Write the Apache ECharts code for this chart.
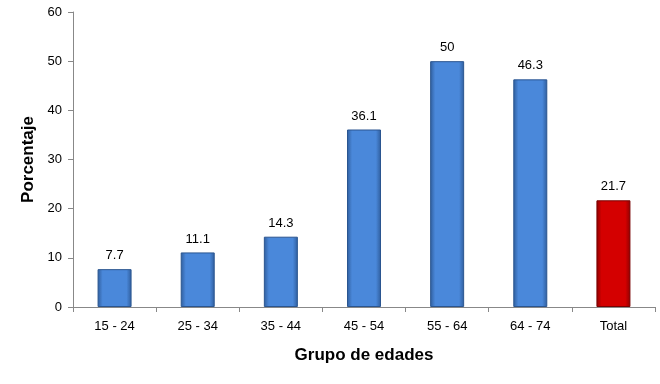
<!DOCTYPE html>
<html><head><meta charset="utf-8">
<script src="https://cdn.jsdelivr.net/npm/echarts@6/dist/echarts.min.js"></script>
<style>html,body{margin:0;padding:0;background:#fff}#c{width:660px;height:384px}</style>
</head><body><div id="c"></div>
<script>
const categories = ['15 - 24','25 - 34','35 - 44','45 - 54','55 - 64','64 - 74','Total'];
const values = [7.7, 11.1, 14.3, 36.1, 50, 46.3, 21.7];
const yTicks = [0,10,20,30,40,50,60];

function grad(edge, mid){
  return {type:'linear',x:0,y:0,x2:1,y2:0,colorStops:[
    {offset:0,color:edge},{offset:0.15,color:mid},{offset:0.5,color:mid},{offset:0.85,color:mid},{offset:1,color:edge}]};
}
const blue = grad('#2f5d9c','#4a88da');
const red = grad('#8e0000','#d40000');

const chart = echarts.init(document.getElementById('c'));
chart.setOption({
  animation:false,
  grid:{left:73,right:5,top:12,bottom:77},
  xAxis:{type:'category',data:categories,
    axisLine:{lineStyle:{color:'#888'}},
    axisTick:{show:true,alignWithLabel:false,length:5,lineStyle:{color:'#888'}},
    axisLabel:{color:'#000',fontFamily:'Liberation Sans',fontSize:13,margin:13},
    name:'Grupo de edades',nameLocation:'middle',nameGap:40,
    nameTextStyle:{color:'#000',fontFamily:'Liberation Sans',fontSize:17,fontWeight:'bold'}},
  yAxis:{type:'value',min:yTicks[0],max:yTicks[yTicks.length-1],interval:10,
    axisLine:{show:true,lineStyle:{color:'#888'}},
    axisTick:{show:true,length:5,lineStyle:{color:'#888'}},
    splitLine:{show:false},
    axisLabel:{color:'#000',fontFamily:'Liberation Sans',fontSize:13,margin:11},
    name:'Porcentaje',nameLocation:'middle',nameGap:34,
    nameTextStyle:{color:'#000',fontFamily:'Liberation Sans',fontSize:17,fontWeight:'bold'}},
  series:[{type:'bar',barWidth:34,
    data:values.map((v,i)=>({value:v,itemStyle:{color:i===values.length-1?red:blue,
      borderColor:i===values.length-1?'#7a0000':'#2a5590',borderWidth:1}})),
    label:{show:true,position:'top',distance:7,color:'#000',fontFamily:'Liberation Sans',fontSize:13}
  }]
});
</script></body></html>
